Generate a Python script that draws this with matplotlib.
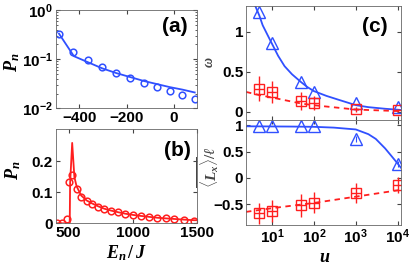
import numpy as np
import matplotlib
matplotlib.use("Agg")
from matplotlib import pyplot as plt
from matplotlib.ticker import FixedLocator, FixedFormatter, LogLocator, NullFormatter

plt.rcParams["font.family"] = ["Liberation Sans", "DejaVu Sans"]
plt.rcParams["font.weight"] = "bold"
plt.rcParams["mathtext.fontset"] = "custom"
plt.rcParams["mathtext.it"] = "Liberation Serif:italic"
plt.rcParams["mathtext.rm"] = "Liberation Serif"
plt.rcParams["mathtext.bf"] = "Liberation Sans:bold"
plt.rcParams["axes.unicode_minus"] = True

BLUE = "#3050ff"
RED = "#ff1f1f"

# ---- panel (a) ----
a_E_pts = [-486, -425, -364, -304, -244, -184, -127, -70, -16, 37, 89]
a_P_pts = [0.33, 0.142, 0.095, 0.070, 0.052, 0.042, 0.033, 0.027, 0.0225, 0.019, 0.0158]
a_E_line = [-486, -423, -362, -303, -243, -183, -127, -70, -17, 37, 89]
a_P_line = [0.33, 0.115, 0.086, 0.065, 0.052, 0.043, 0.036, 0.031, 0.027, 0.024, 0.021]

# ---- panel (b) ----
b_E_pts = [408, 452, 485, 503, 529, 562, 598, 640, 684, 730, 779, 831, 883,
           942, 1002, 1059, 1123, 1188, 1253, 1322, 1394, 1472]
b_P_pts = [0.0, 0.0, 0.013, 0.135, 0.157, 0.11, 0.086, 0.072, 0.063, 0.054, 0.046,
           0.041, 0.036, 0.030, 0.027, 0.024, 0.020, 0.018, 0.016, 0.013, 0.011, 0.009]
b_E_line = [400, 450, 480, 509, 512, 528, 545, 562, 598, 640, 684, 730, 779, 831,
            883, 942, 1002, 1059, 1123, 1188, 1253, 1322, 1394, 1472, 1500]
b_P_line = [0.0, 0.0, 0.0, 0.0, 0.13, 0.26, 0.15, 0.12, 0.09, 0.074, 0.064, 0.055,
            0.047, 0.041, 0.036, 0.031, 0.027, 0.024, 0.021, 0.018, 0.016, 0.014,
            0.012, 0.010, 0.010]

# ---- panel (c) ----
u_pts = [5, 10, 50, 100, 1000, 10000]
omega_tri = [1.25, 0.855, 0.375, 0.25, 0.11, 0.06]
omega_sq = [0.29, 0.25, 0.14, 0.11, 0.034, 0.02]
omega_sq_err = [0.155, 0.135, 0.115, 0.09, 0.03, 0.02]
u_line_w = [4.0, 5, 6, 8, 10, 14, 20, 30, 50, 70, 100, 200, 400, 1000, 2000, 5000, 12000]
omega_line_w = [1.32, 1.2, 1.08, 0.95, 0.85, 0.70, 0.57, 0.47, 0.37, 0.31, 0.26,
                0.20, 0.15, 0.085, 0.06, 0.04, 0.025]
u_line_r = [2.4, 5, 10, 50, 100, 1000, 12000]
omega_line_r = [0.25, 0.21, 0.18, 0.105, 0.084, 0.03, 0.01]

L_tri = [0.99, 0.99, 0.99, 0.99, 0.74, 0.26]
L_tri_err = [0, 0, 0, 0, 0.05, 0.05]
L_sq = [-0.68, -0.63, -0.52, -0.475, -0.29, -0.135]
L_sq_err = [0.2, 0.21, 0.22, 0.2, 0.19, 0.15]
u_line_Lb = [2.4, 30, 100, 300, 1000, 2000, 3000, 5000, 7000, 10000, 12000]
L_line_b = [0.98, 0.975, 0.97, 0.955, 0.92, 0.83, 0.74, 0.56, 0.42, 0.27, 0.19]
u_line_Lr = [2.4, 10, 100, 1000, 12000]
L_line_r = [-0.65, -0.58, -0.48, -0.36, -0.23]

W, H = 415, 268
fig = plt.figure(figsize=(W / 100, H / 100), dpi=100)


def box(l, t, r, b):
    return [l / W, 1 - b / H, (r - l) / W, (b - t) / H]


def style(ax):
    ax.tick_params(direction="in", which="both", top=True, right=True,
                   labelsize=11, length=3, pad=2, color="#444444")
    ax.tick_params(which="minor", length=1.5)
    for s in ax.spines.values():
        s.set_color("#666666")
        s.set_linewidth(0.6)


def pow_labels(exps):
    return [r"$\mathbf{10^{%d}}$" % e for e in exps]


# (a)
ax_a = fig.add_axes(box(55.7, 10, 197.3, 108.3))
ax_a.plot(a_E_line, a_P_line, color=BLUE, lw=1.3)
ax_a.plot(a_E_pts, a_P_pts, "o", mfc="none", mec=BLUE, ms=4.8, mew=1.1)
ax_a.set_yscale("log")
ax_a.set_xlim(-500, 100)
ax_a.set_ylim(1e-2, 1)
ax_a.xaxis.set_major_locator(FixedLocator([-400, -200, 0]))
ax_a.xaxis.set_major_formatter(FixedFormatter(["\u2212400", "\u2212200", "0"]))
ax_a.yaxis.set_major_locator(FixedLocator([1e-2, 1e-1, 1]))
ax_a.yaxis.set_major_formatter(FixedFormatter(pow_labels([-2, -1, 0])))
ax_a.yaxis.set_minor_locator(LogLocator(base=10, subs=np.arange(2, 10)))
ax_a.yaxis.set_minor_formatter(NullFormatter())
style(ax_a)

# (b)
ax_b = fig.add_axes(box(55.7, 129, 197.3, 223.3))
ax_b.plot(b_E_line, b_P_line, color=RED, lw=1.3)
ax_b.plot(b_E_pts, b_P_pts, "o", mfc="none", mec=RED, ms=4.8, mew=1.1)
ax_b.set_xlim(400, 1500)
ax_b.set_ylim(0, 0.305)
ax_b.xaxis.set_major_locator(FixedLocator([500, 1000, 1500]))
ax_b.xaxis.set_major_formatter(FixedFormatter(["500", "1000", "1500"]))
ax_b.yaxis.set_major_locator(FixedLocator([0, 0.1, 0.2]))
ax_b.yaxis.set_major_formatter(FixedFormatter(["0", "0.1", "0.2"]))
style(ax_b)

# (c) top
ax_c1 = fig.add_axes(box(246, 6, 401, 120))
ax_c1.plot(u_line_w, omega_line_w, color=BLUE, lw=1.3)
ax_c1.plot(u_line_r, omega_line_r, "--", color=RED, lw=1.3, dashes=(3, 2.5))
ax_c1.plot(u_pts, omega_tri, "^", mfc="none", mec=BLUE, ms=8, mew=1.0)
ax_c1.errorbar(u_pts, omega_sq, yerr=omega_sq_err, fmt="s", mfc="none", mec=RED,
               ecolor=RED, ms=7, mew=1.0, elinewidth=1.0, capsize=0)
ax_c1.plot(u_pts, omega_sq, "_", color=RED, ms=7, mew=1.0)
ax_c1.set_xscale("log")
ax_c1.set_xlim(2.4, 1.2e4)
ax_c1.set_ylim(-0.1, 1.32)
ax_c1.xaxis.set_major_locator(FixedLocator([10, 100, 1000, 10000]))
ax_c1.xaxis.set_major_formatter(NullFormatter())
ax_c1.xaxis.set_minor_formatter(NullFormatter())
ax_c1.yaxis.set_major_locator(FixedLocator([0, 0.5, 1]))
ax_c1.yaxis.set_major_formatter(FixedFormatter(["0", "0.5", "1"]))
style(ax_c1)

# (c) bottom
ax_c2 = fig.add_axes(box(246, 120, 401, 225))
ax_c2.plot(u_line_Lb, L_line_b, color=BLUE, lw=1.3)
ax_c2.plot(u_line_Lr, L_line_r, "--", color=RED, lw=1.3, dashes=(3, 2.5))
ax_c2.errorbar(u_pts, L_tri, yerr=L_tri_err, fmt="^", mfc="none", mec=BLUE,
               ecolor=BLUE, ms=8, mew=1.0, elinewidth=0.8, capsize=0)
ax_c2.errorbar(u_pts, L_sq, yerr=L_sq_err, fmt="s", mfc="none", mec=RED,
               ecolor=RED, ms=7, mew=1.0, elinewidth=1.0, capsize=0)
ax_c2.plot(u_pts, L_sq, "_", color=RED, ms=7, mew=1.0)
ax_c2.set_xscale("log")
ax_c2.set_xlim(2.4, 1.2e4)
ax_c2.set_ylim(-0.9, 1.1)
ax_c2.xaxis.set_major_locator(FixedLocator([10, 100, 1000, 10000]))
ax_c2.xaxis.set_major_formatter(FixedFormatter(pow_labels([1, 2, 3, 4])))
ax_c2.xaxis.set_minor_formatter(NullFormatter())
ax_c2.yaxis.set_major_locator(FixedLocator([-0.5, 0, 0.5, 1]))
ax_c2.yaxis.set_major_formatter(FixedFormatter(["\u22120.5", "0", "0.5", "1"]))
style(ax_c2)


def ftext(x, y, s, **kw):
    fig.text(x / W, 1 - y / H, s, ha="center", va="center", **kw)


# panel letters
ftext(175, 27, "(a)", fontsize=15, fontweight="bold")
ftext(177, 150, "(b)", fontsize=15, fontweight="bold")
ftext(375, 27, "(c)", fontsize=15, fontweight="bold")

# axis labels
ftext(12, 62, r"$P_n$", fontsize=13, rotation=90)
ftext(13, 170, r"$P_n$", fontsize=13, rotation=90)
ftext(126, 253, r"$E_n\,/\,J$", fontsize=13)
ftext(325, 257, r"$u$", fontsize=13)
ftext(209, 62, r"$\omega$", fontsize=10, rotation=90, color="#444444")
ftext(209, 167, r"$\overline{\langle L_x\rangle}/\ell$", fontsize=11, rotation=90,
      color="#444444")

fig.savefig("out.png", dpi=100)
